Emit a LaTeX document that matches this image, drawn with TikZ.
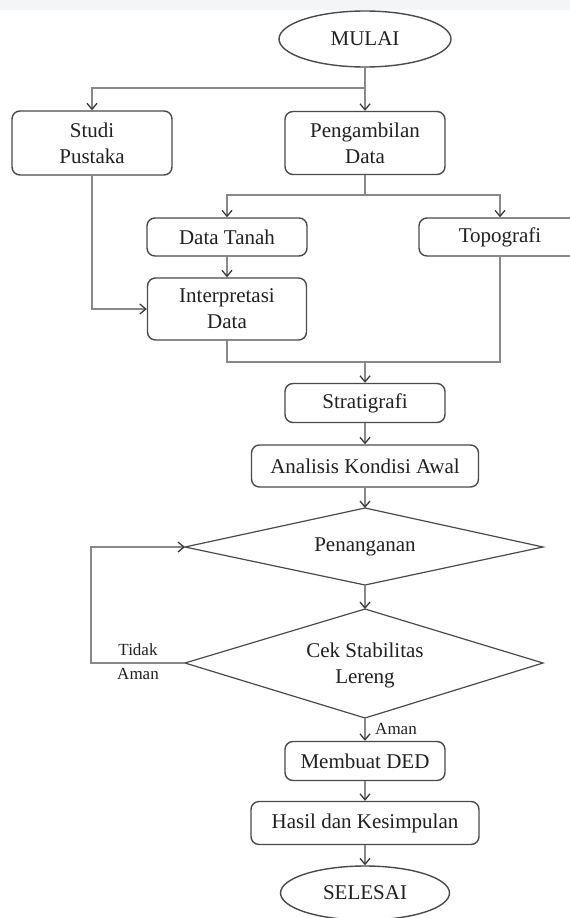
\documentclass[tikz,border=0pt]{standalone}
\usepackage{fontspec}
\setmainfont{Liberation Serif}
\usetikzlibrary{arrows.meta,shapes.geometric}
\definecolor{bordc}{HTML}{4A4A4A}
\definecolor{linec}{HTML}{888888}
\definecolor{tipc}{HTML}{3A3A3A}
\definecolor{txtc}{HTML}{202020}
\definecolor{bandc}{HTML}{F4F5F7}
\begin{document}
\begin{tikzpicture}[x=1pt,y=-1pt,
  font=\fontsize{21}{26}\selectfont,
  box/.style={draw=bordc, line width=1.4pt, rounded corners=8pt, text=txtc, align=center, inner sep=0pt},
  term/.style={draw=bordc, line width=1.4pt, ellipse, text=txtc, inner sep=0pt},
  dec/.style={draw=bordc, line width=1.2pt},
  dectext/.style={text=txtc, align=center, inner sep=0pt},
  conn/.style={draw=linec, line width=1.3pt},
  arr/.style={conn, -{Straight Barb[length=6pt,width=10pt,color=tipc,line width=1.3pt]}},
  lbl/.style={text=txtc, font=\fontsize{17}{20}\selectfont, inner sep=0pt}
]
\useasboundingbox (0,0) rectangle (570,918);
\clip (0,0) rectangle (570,918);
\fill[white] (0,0) rectangle (570,918);
\fill[bandc] (0,0) rectangle (570,10);

\node[term, minimum width=172pt, minimum height=56pt] (mulai) at (365,39) {MULAI};
\node[box, minimum width=160pt, minimum height=64pt] (studi) at (92,143) {Studi\\Pustaka};
\node[box, minimum width=160pt, minimum height=63pt] (ambil) at (365,143) {Pengambilan\\Data};
\node[box, minimum width=160pt, minimum height=38pt] (tanah) at (227,237) {Data Tanah};
\node[box, minimum width=162pt, minimum height=38pt] (topo) at (500,237) {Topografi};
\node[box, minimum width=159pt, minimum height=62pt] (interp) at (227,309) {Interpretasi\\Data};
\node[box, minimum width=160pt, minimum height=39pt] (strat) at (365,403) {Stratigrafi};
\node[box, minimum width=227pt, minimum height=42pt] (anal) at (365,466) {Analisis Kondisi Awal};

% Penanganan diamond
\coordinate (pN) at (365,508);
\coordinate (pE) at (543,547);
\coordinate (pS) at (365,585);
\coordinate (pW) at (185,547);
\draw[dec] (pN) -- (pE) -- (pS) -- (pW) -- cycle;
\node[dectext] (penang) at (365,547) {Penanganan};

% Cek diamond
\coordinate (cN) at (365,609);
\coordinate (cE) at (543,663);
\coordinate (cS) at (365,718);
\coordinate (cW) at (185,663);
\draw[dec] (cN) -- (cE) -- (cS) -- (cW) -- cycle;
\node[dectext] (cek) at (365,665) {Cek Stabilitas\\Lereng};

\node[box, minimum width=160pt, minimum height=39pt] (ded) at (365,761) {Membuat DED};
\node[box, minimum width=228pt, minimum height=43pt] (hasil) at (365,823) {Hasil dan Kesimpulan};
\node[term, minimum width=169pt, minimum height=54pt] (selesai) at (365,893) {SELESAI};

\coordinate (j1) at (365,88);
\draw[conn] (mulai.south) -- (j1);
\draw[arr] (j1) -| (studi.north);
\draw[arr] (j1) -- (ambil.north);
\coordinate (j2) at (365,195);
\draw[conn] (ambil.south) -- (j2);
\draw[arr] (j2) -| (tanah.north);
\draw[arr] (j2) -| (topo.north);
\draw[arr] (tanah) -- (interp);
\draw[arr] (studi.south) |- (interp.west);
\coordinate (j3) at (365,362);
\draw[conn] (interp.south) |- (j3);
\draw[conn] (topo.south) |- (j3);
\draw[arr] (j3) -- (strat.north);
\draw[arr] (strat) -- (anal);
\draw[arr] (anal.south) -- (pN);
\draw[arr] (pS) -- (cN);
\coordinate (j4) at (91,663);
\draw[arr] (cW) -- (j4) |- (pW);
\node[lbl] (tidak) at (138,650) {Tidak};
\node[lbl] (aman1) at (138,674) {Aman};
\draw[arr] (cS) -- (ded.north);
\node[lbl] (aman2) at (396,729) {Aman};
\draw[arr] (ded) -- (hasil);
\draw[arr] (hasil) -- (selesai);
\end{tikzpicture}
\end{document}
